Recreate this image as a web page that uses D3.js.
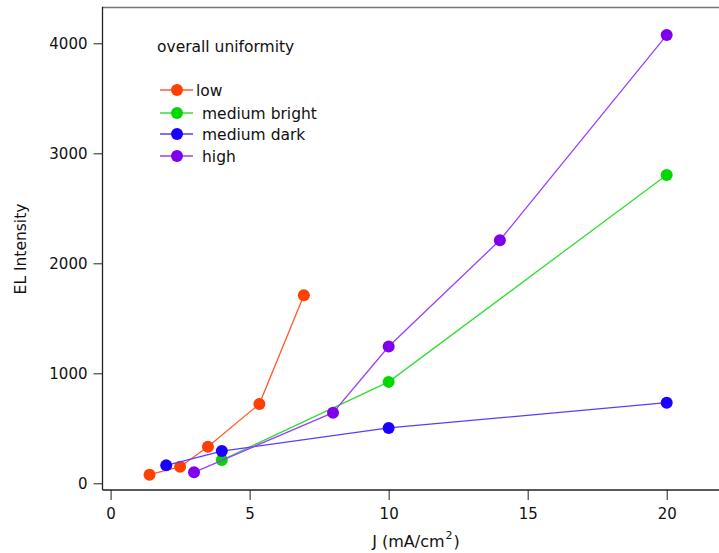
<!DOCTYPE html>
<html>
<head>
<meta charset="utf-8">
<script src="https://cdn.jsdelivr.net/npm/d3@7"></script>
<style>
  html, body { margin: 0; padding: 0; background: #fff; }
  svg { display: block; }
  text { font-family: "DejaVu Sans", sans-serif; fill: #111; }
</style>
</head>
<body>
<svg id="chart" width="719" height="553"></svg>
<script>
// ---- data ----
const seriesNames = ["low", "medium bright", "medium dark", "high"];
const lowJ = [1.4, 2.5, 3.5, 5.35, 6.95];
const lowEL = [78, 151, 333, 721, 1710];
const medBrightJ = [4, 10, 20];
const medBrightEL = [212, 922, 2803];
const medDarkJ = [2, 4, 10, 20];
const medDarkEL = [163, 293, 503, 733];
const highJ = [3, 8, 10, 14, 20];
const highEL = [100, 642, 1244, 2210, 4075];
const xTicks = [0, 5, 10, 15, 20];
const yTicks = [0, 1000, 2000, 3000, 4000];
const legendTitle = "overall uniformity";

const series = [
  { name: seriesNames[0], J: lowJ, EL: lowEL, dot: "#ff4000", line: "#ff5a30" },
  { name: seriesNames[1], J: medBrightJ, EL: medBrightEL, dot: "#00d800", line: "#33dd33" },
  { name: seriesNames[2], J: medDarkJ, EL: medDarkEL, dot: "#1a00ff", line: "#5a3cff" },
  { name: seriesNames[3], J: highJ, EL: highEL, dot: "#8000ee", line: "#9a40ff" }
];

const svg = d3.select("#chart");
const pLeft = 102.5, pTop = 7.5, pBottom = 490, pRight = 719;

const x = d3.scaleLinear().domain([0, 20]).range([110.6, 666.7]);
const y = d3.scaleLinear().domain([0, 4000]).range([483.3, 43.3]);

// frame
svg.append("line").attr("x1", pLeft).attr("x2", pRight).attr("y1", pTop).attr("y2", pTop)
  .attr("stroke", "#777").attr("stroke-width", 1.5);

// y axis
const yAxis = d3.axisLeft(y).tickValues(yTicks).tickSize(9).tickPadding(6).tickFormat(d3.format("d"));
const gy = svg.append("g").attr("transform", `translate(${pLeft},0)`).call(yAxis);
gy.select(".domain").remove();
gy.selectAll(".tick line").attr("stroke", "#222");
gy.selectAll(".tick text").attr("font-size", 15).attr("font-family", "DejaVu Sans").attr("fill", "#111");
svg.append("line").attr("x1", pLeft).attr("x2", pLeft).attr("y1", pTop - 0.75).attr("y2", pBottom)
  .attr("stroke", "#222").attr("stroke-width", 1.3);

// x axis
const xAxis = d3.axisBottom(x).tickValues(xTicks).tickSize(10).tickPadding(8).tickFormat(d3.format("d"));
const gx = svg.append("g").attr("transform", `translate(0,${pBottom})`).call(xAxis);
gx.select(".domain").remove();
gx.selectAll(".tick line").attr("stroke", "#222");
gx.selectAll(".tick text").attr("font-size", 15).attr("font-family", "DejaVu Sans").attr("fill", "#111");
svg.append("line").attr("x1", pLeft).attr("x2", pRight).attr("y1", pBottom).attr("y2", pBottom)
  .attr("stroke", "#222").attr("stroke-width", 1.3);

// axis titles
svg.append("text").attr("transform", "translate(26,249) rotate(-90)")
  .attr("text-anchor", "middle").attr("font-size", 15.5).text("EL Intensity");
const xt = svg.append("text").attr("x", 416).attr("y", 547).attr("text-anchor", "middle").attr("font-size", 16);
xt.append("tspan").text("J (mA/cm");
xt.append("tspan").attr("dy", -8).attr("font-size", 11).attr("dx", 1).text("2");
xt.append("tspan").attr("dy", 8).attr("dx", 1).text(")");

// series
const lineGen = d3.line().x(d => x(d[0])).y(d => y(d[1]));
series.forEach(s => {
  const pts = s.J.map((j, i) => [j, s.EL[i]]);
  svg.append("path").datum(pts).attr("d", lineGen)
    .attr("fill", "none").attr("stroke", s.line).attr("stroke-width", 1.3);
  svg.selectAll(null).data(pts).enter().append("circle")
    .attr("cx", d => x(d[0])).attr("cy", d => y(d[1])).attr("r", 6)
    .attr("fill", s.dot);
});

// legend
svg.append("text").attr("x", 157).attr("y", 52).attr("font-size", 15.5).text(legendTitle);
const ly = [90, 113, 134, 156];
series.forEach((s, i) => {
  const g = svg.append("g").attr("transform", `translate(0,${ly[i]})`);
  g.append("line").attr("x1", 160).attr("x2", 193).attr("y1", 0).attr("y2", 0)
    .attr("stroke", s.line).attr("stroke-width", 1.3);
  g.append("circle").attr("cx", 177).attr("cy", 0).attr("r", 6).attr("fill", s.dot);
  g.append("text").attr("x", i === 0 ? 196 : 202).attr("y", 5.5).attr("font-size", 15.5).text(s.name);
});
</script>
</body>
</html>
